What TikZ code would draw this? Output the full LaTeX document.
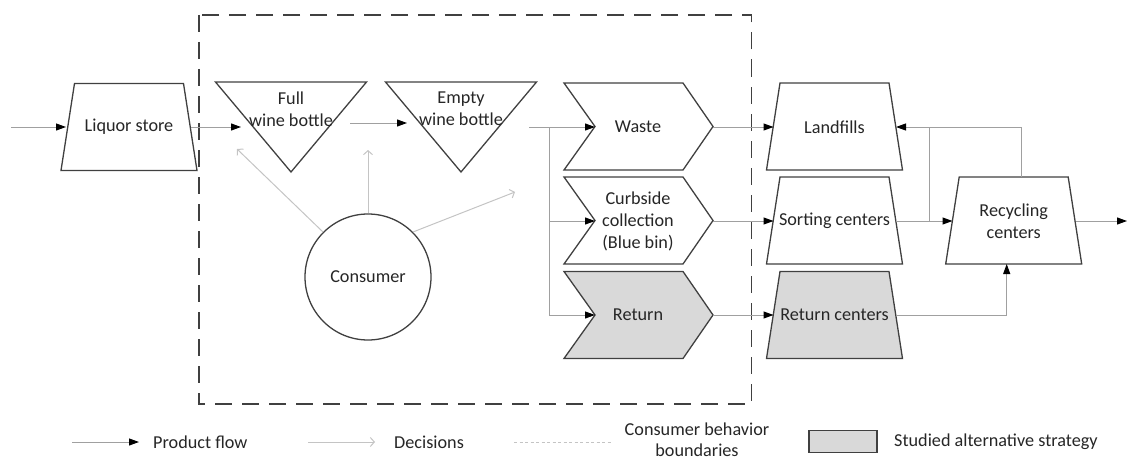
\documentclass[tikz,border=0pt]{standalone}
\usepackage{fontspec}
\setmainfont{Carlito}
\usetikzlibrary{arrows.meta,calc}
\definecolor{shpline}{HTML}{404040}
\definecolor{flowgray}{HTML}{A0A0A0}
\definecolor{decgray}{HTML}{C4C4C4}
\definecolor{altgray}{HTML}{D9D9D9}
\newcommand\TrapShape[3]{%
  \draw[shp,fill=#3] (#1-68,#2+43.5) -- (#1-54.5,#2-43.5) -- (#1+54.5,#2-43.5) -- (#1+68,#2+43.5) -- cycle;}
\newcommand\ChevShape[3]{%
  \draw[shp,fill=#3] (#1-74.5,#2-43.5) -- (#1+44.5,#2-43.5) -- (#1+74.5,#2) -- (#1+44.5,#2+43.5) -- (#1-74.5,#2+43.5) -- (#1-43.5,#2) -- cycle;}
\newcommand\TriShape[1]{%
  \draw[shp] (#1-75.5,82) -- (#1+75.5,82) -- (#1,172) -- cycle;}
\begin{document}
\begin{tikzpicture}[x=1pt,y=-1pt,
  shp/.style={draw=shpline,line width=1.3pt,line join=miter},
  lbl/.style={font=\fontsize{18.2}{22}\selectfont,text=black!85,align=center,inner sep=0pt},
  flow/.style={draw=flowgray,line width=1pt,-{Triangle[length=10pt,width=7pt,color=black]}},
  plain/.style={draw=flowgray,line width=1pt},
  decision/.style={draw=decgray,line width=1pt,-{Straight Barb[length=4pt,width=9pt]}},
  boundary/.style={draw=shpline,line width=1.2pt,dash pattern=on 17pt off 10pt},
]
\useasboundingbox (0,0) rectangle (1127,460);
% boundary box
\draw[boundary] (199,15) rectangle (751.5,404);
% shapes
\TrapShape{129}{127}{white}
\TriShape{291}
\TriShape{461}
\ChevShape{638.5}{126.5}{white}
\ChevShape{638.5}{220.5}{white}
\ChevShape{638.5}{315}{altgray}
\TrapShape{834.5}{126.5}{white}
\TrapShape{834.5}{220.5}{white}
\TrapShape{834.5}{315}{altgray}
\TrapShape{1013.7}{220.5}{white}
% labels
\node[lbl] (liquor) at (129,127) {Liquor store};
\node[lbl] (full) at (291,109) {Full\\wine bottle};
\node[lbl] (empty) at (461,109) {Empty\\wine bottle};
\node[lbl] (waste) at (638,127) {Waste};
\node[lbl] (curb) at (638,221) {Curbside\\collection\\(Blue bin)};
\node[lbl] (return) at (638,315) {Return};
\node[lbl] (landfills) at (834.5,127) {Landfills};
\node[lbl] (sorting) at (834.5,221) {Sorting centers};
\node[lbl] (retc) at (834.5,315) {Return centers};
\node[lbl] (recyc) at (1013.7,221) {Recycling\\centers};
\node[shp,circle,minimum size=126pt,inner sep=0pt,lbl,draw=shpline] (consumer) at (368,277) {Consumer};
% connector end points
\coordinate (src) at (11,127);
\coordinate (liqW) at (66,127);
\coordinate (liqE) at (191,127);
\coordinate (fullIn) at (241,127);
\coordinate (fullOut) at (350,123);
\coordinate (emptyIn) at (407,123);
\coordinate (emptyOut) at (529,127);
\coordinate (split) at (549,127);
\coordinate (wasteW) at (595,127);
\coordinate (curbW) at (595,221);
\coordinate (returnW) at (595,315);
\coordinate (wasteE) at (713,127);
\coordinate (curbE) at (713,221);
\coordinate (returnE) at (713,315);
\coordinate (landW) at (773.5,127);
\coordinate (sortW) at (773.5,221);
\coordinate (retcW) at (773.5,315);
\coordinate (landE) at (896,127);
\coordinate (sortE) at (896,221);
\coordinate (retcE) at (896,315);
\coordinate (junc) at (929,221);
\coordinate (recW) at (952.5,221);
\coordinate (recE) at (1075.5,221);
\coordinate (recN) at (1021,177);
\coordinate (recS) at (1006.7,264);
\coordinate (sink) at (1127,221);
\coordinate (decA) at (237,149);
\coordinate (decB) at (368,150);
\coordinate (decC) at (515,192);
% product flows
\draw[flow] (src) -- (liqW);
\draw[flow] (liqE) -- (fullIn);
\draw[flow] (fullOut) -- (emptyIn);
\draw[flow] (emptyOut) -- (wasteW);
\draw[plain] (split) -- (split |- returnW);
\draw[flow] (split |- curbW) -- (curbW);
\draw[flow] (split |- returnW) -- (returnW);
\draw[flow] (wasteE) -- (landW);
\draw[flow] (curbE) -- (sortW);
\draw[flow] (returnE) -- (retcW);
\draw[flow] (sortE) -- (recW);
\draw[plain] (junc) -- (junc |- landE);
\draw[flow] (recN) |- (landE);
\draw[flow] (retcE) -| (recS);
\draw[flow] (recE) -- (sink);
% decisions
\draw[decision] (consumer.135) -- (decA);
\draw[decision] (consumer.north) -- (decB);
\draw[decision] (consumer.45) -- (decC);
% legend
\coordinate (lgA1) at (72,442);
\coordinate (lgA2) at (139,442);
\coordinate (lgB1) at (308,442);
\coordinate (lgB2) at (375,442);
\coordinate (lgC1) at (514,442);
\coordinate (lgC2) at (611,442);
\draw[flow] (lgA1) -- (lgA2);
\node[lbl,anchor=west] (lgAt) at (153,442) {Product flow};
\draw[decision] (lgB1) -- (lgB2);
\node[lbl,anchor=west] (lgBt) at (394,442) {Decisions};
\draw[draw=decgray,line width=1pt,dash pattern=on 3pt off 2.5pt] (lgC1) -- (lgC2);
\node[lbl,font=\fontsize{18.2}{20.5}\selectfont] (lgCt) at (697,439.5) {Consumer behavior\\boundaries};
\node[shp,fill=altgray,minimum width=68pt,minimum height=22pt,inner sep=0pt] (lgD) at (843,441.5) {};
\node[lbl,anchor=west] (lgDt) at (894,442) {Studied alternative strategy};
\end{tikzpicture}
\end{document}
